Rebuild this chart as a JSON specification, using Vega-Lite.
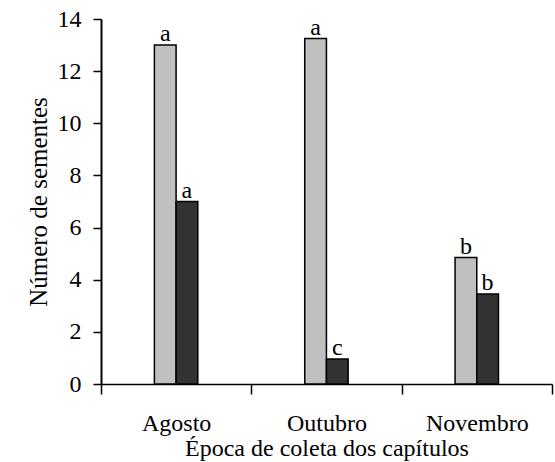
{
  "$schema": "https://vega.github.io/schema/vega-lite/v6.json",
  "width": 451,
  "height": 365,
  "autosize": {"type": "none"},
  "padding": {"left": 101, "top": 19, "right": 3, "bottom": 78},
  "config": {
    "view": {"stroke": null},
    "font": "Liberation Serif",
    "axis": {
      "labelFont": "Liberation Serif",
      "titleFont": "Liberation Serif",
      "labelColor": "black",
      "titleColor": "black",
      "domainColor": "black",
      "tickColor": "black",
      "grid": false,
      "labelFontSize": 24,
      "titleFontSize": 24,
      "titleFontWeight": "normal",
      "domainWidth": 1.5,
      "tickWidth": 1.5
    }
  },
  "data": {
    "values": [
      {"epoca": "Agosto", "serie": "A", "valor": 13.0, "letra": "a"},
      {"epoca": "Agosto", "serie": "B", "valor": 7.0, "letra": "a"},
      {"epoca": "Outubro", "serie": "A", "valor": 13.25, "letra": "a"},
      {"epoca": "Outubro", "serie": "B", "valor": 0.96, "letra": "c"},
      {"epoca": "Novembro", "serie": "A", "valor": 4.85, "letra": "b"},
      {"epoca": "Novembro", "serie": "B", "valor": 3.45, "letra": "b"}
    ]
  },
  "encoding": {
    "x": {
      "field": "epoca",
      "type": "nominal",
      "sort": ["Agosto", "Outubro", "Novembro"],
      "scale": {"paddingInner": 0, "paddingOuter": 0},
      "axis": {
        "title": "Época de coleta dos capítulos",
        "labelAngle": 0,
        "tickBand": "extent",
        "tickSize": 10,
        "labelPadding": 17,
        "titlePadding": 1
      }
    },
    "xOffset": {
      "field": "serie",
      "type": "nominal",
      "scale": {"paddingInner": 0, "paddingOuter": 0, "range": [53.4, 96.8]}
    },
    "y": {
      "field": "valor",
      "type": "quantitative",
      "scale": {"domain": [0, 14]},
      "axis": {
        "values": [0, 2, 4, 6, 8, 10, 12, 14],
        "title": "Número de sementes",
        "titleFontSize": 25,
        "tickSize": 8,
        "labelPadding": 12,
        "titlePadding": 6,
        "domainWidth": 2
      }
    }
  },
  "layer": [
    {
      "mark": {"type": "bar", "stroke": "black", "strokeWidth": 1.5},
      "encoding": {
        "color": {
          "field": "serie",
          "type": "nominal",
          "scale": {"range": ["#c0c0c0", "#333333"]},
          "legend": null
        }
      }
    },
    {
      "mark": {"type": "text", "baseline": "bottom", "dy": 1, "fontSize": 24, "color": "black"},
      "encoding": {"text": {"field": "letra"}}
    }
  ]
}
